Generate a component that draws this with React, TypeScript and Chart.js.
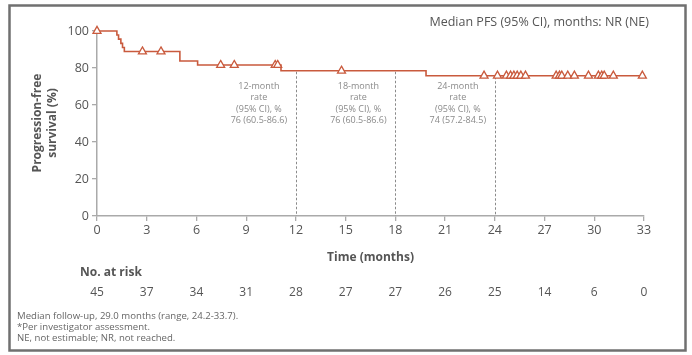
import { useEffect, useRef } from "react";
import { Chart, registerables } from "chart.js";

Chart.register(...registerables);

// Kaplan-Meier step points (month, PFS %)
const eventMonths = [0, 1.2, 1.3, 1.44, 1.54, 1.65, 5.0, 6.07, 11.1, 19.85, 33];
const survivalPct = [100, 97.8, 95.6, 93.3, 91.1, 88.9, 83.8, 81.6, 78.5, 75.8, 75.8];

// Censored observations (months)
const censorMonths = [
  0, 2.74, 3.86, 7.46, 8.28, 10.75, 10.9, 14.75, 23.35, 24.16, 24.7, 24.95, 25.15,
  25.35, 25.57, 25.85, 27.7, 27.9, 28.04, 28.4, 28.8, 29.65, 30.25, 30.45, 30.6,
  31.15, 32.9,
];

const xTickMonths = [0, 3, 6, 9, 12, 15, 18, 21, 24, 27, 30, 33];
const atRisk = [45, 37, 34, 31, 28, 27, 27, 26, 25, 14, 6, 0];

const landmarkMonths = [12, 18, 24];
const landmarkLabels = [
  ["12-month", "rate", "(95% CI), %", "76 (60.5-86.6)"],
  ["18-month", "rate", "(95% CI), %", "76 (60.5-86.6)"],
  ["24-month", "rate", "(95% CI), %", "74 (57.2-84.5)"],
];

const titleText = "Median PFS (95% CI), months: NR (NE)";
const yTitleLines = ["Progression-free", "survival (%)"];
const xTitleText = "Time (months)";
const atRiskTitle = "No. at risk";
const footnotes = [
  "Median follow-up, 29.0 months (range, 24.2-33.7).",
  "*Per investigator assessment.",
  "NE, not estimable; NR, not reached.",
];

const CURVE = "#C95A3D";
const FONT = "'Open Sans', 'DejaVu Sans', sans-serif";

function survivalAt(t: number): number {
  let v = survivalPct[0];
  for (let i = 0; i < eventMonths.length; i++) {
    if (eventMonths[i] <= t) v = survivalPct[i];
  }
  return v;
}

const overlayPlugin = {
  id: "kmOverlay",
  beforeDatasetsDraw(chart: any) {
    const { ctx, scales } = chart;
    const xs = scales.x;
    const ys = scales.y;
    ctx.save();
    ctx.strokeStyle = "#8a8a8a";
    ctx.lineWidth = 1;
    ctx.setLineDash([2.5, 2]);
    landmarkMonths.forEach((m) => {
      const x = Math.round(xs.getPixelForValue(m)) + 0.5;
      ctx.beginPath();
      ctx.moveTo(x, ys.getPixelForValue(survivalAt(m)) + 1);
      ctx.lineTo(x, ys.getPixelForValue(0));
      ctx.stroke();
    });
    ctx.setLineDash([]);
    // landmark text
    ctx.fillStyle = "#8a8a8a";
    ctx.font = `9px ${FONT}`;
    ctx.textAlign = "center";
    ctx.textBaseline = "middle";
    landmarkMonths.forEach((m, i) => {
      const cx = xs.getPixelForValue(m) - 37;
      landmarkLabels[i].forEach((line, j) => {
        ctx.fillText(line, cx, 86 + j * 11.5);
      });
    });
    ctx.restore();
  },
  afterDraw(chart: any) {
    const { ctx, scales } = chart;
    const xs = scales.x;
    ctx.save();
    // frame
    ctx.strokeStyle = "#707070";
    ctx.lineWidth = 2.5;
    ctx.strokeRect(9.5, 5.5, 676, 345);

    // title
    ctx.fillStyle = "#555";
    ctx.font = `12.5px ${FONT}`;
    ctx.textAlign = "right";
    ctx.textBaseline = "middle";
    ctx.fillText(titleText, 649, 22);

    // y title
    ctx.save();
    ctx.translate(38, 123);
    ctx.rotate(-Math.PI / 2);
    ctx.font = `bold 12px ${FONT}`;
    ctx.textAlign = "center";
    ctx.fillStyle = "#555";
    ctx.fillText(yTitleLines[0], 0, 0);
    ctx.fillText(yTitleLines[1], 0, 15);
    ctx.restore();

    // x title
    ctx.font = `bold 12px ${FONT}`;
    ctx.textAlign = "center";
    ctx.fillText(xTitleText, (chart.chartArea.left + chart.chartArea.right) / 2, 258);

    // at risk
    ctx.textAlign = "left";
    ctx.fillText(atRiskTitle, 80, 273);
    ctx.font = `12px ${FONT}`;
    ctx.textAlign = "center";
    xTickMonths.forEach((m, i) => {
      ctx.fillText(String(atRisk[i]), xs.getPixelForValue(m), 293);
    });

    // footnotes
    ctx.fillStyle = "#666";
    ctx.font = `9.6px ${FONT}`;
    ctx.textAlign = "left";
    footnotes.forEach((f, i) => {
      ctx.fillText(f, 17, 316 + i * 11);
    });
    ctx.restore();
  },
};

export default function App() {
  const ref = useRef<HTMLCanvasElement | null>(null);
  useEffect(() => {
    if (!ref.current) return;
    const curve = eventMonths.map((m, i) => ({ x: m, y: survivalPct[i] }));
    const censors = censorMonths.map((m) => ({ x: m, y: survivalAt(m) }));
    const chart = new Chart(ref.current, {
      type: "scatter",
      data: {
        datasets: [
          {
            data: censors,
            showLine: false,
            pointStyle: "triangle",
            pointRadius: 4.6,
            pointBorderWidth: 1.3,
            pointBorderColor: CURVE,
            pointBackgroundColor: "#ffffff",
            clip: false,
            order: 0,
          },
          {
            data: curve,
            showLine: true,
            stepped: true,
            borderColor: CURVE,
            borderWidth: 1.6,
            pointRadius: 0,
            fill: false,
            clip: false,
            order: 1,
          },
        ],
      },
      options: {
        responsive: false,
        animation: false,
        events: [],
        layout: { padding: { left: 0, right: 48, top: 31, bottom: 0 } },
        plugins: { legend: { display: false }, tooltip: { enabled: false } },
        scales: {
          x: {
            type: "linear",
            min: 0,
            max: 33,
            afterFit: (s: any) => {
              s.height = 139;
            },
            ticks: {
              stepSize: 3,
              color: "#555",
              font: { family: FONT, size: 12.5 },
              padding: 2,
              maxRotation: 0,
            },
            grid: { drawOnChartArea: false, drawTicks: true, tickLength: 5, color: "#aaa", lineWidth: 1.3 },
            border: { color: "#aaa", width: 1.5 },
          },
          y: {
            min: 0,
            max: 100,
            afterFit: (s: any) => {
              s.width = 97;
            },
            ticks: {
              stepSize: 20,
              color: "#555",
              font: { family: FONT, size: 12.5 },
              padding: 3,
            },
            grid: { drawOnChartArea: false, drawTicks: true, tickLength: 5, color: "#aaa", lineWidth: 1.3 },
            border: { color: "#aaa", width: 1.5 },
          },
        },
      },
      plugins: [overlayPlugin],
    });
    return () => chart.destroy();
  }, []);
  return (
    <div style={{ position: "absolute", left: 0, top: 0, width: 692, height: 355, background: "#fff" }}>
      <canvas ref={ref} width={692} height={355} style={{ display: "block", width: 692, height: 355 }} />
    </div>
  );
}
